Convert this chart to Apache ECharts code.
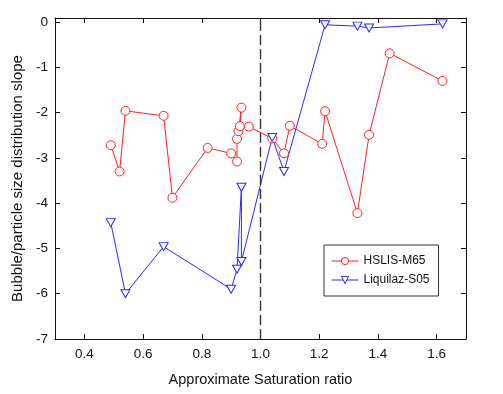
<!DOCTYPE html>
<html><head><meta charset="utf-8">
<script src="https://cdn.jsdelivr.net/npm/echarts@6/dist/echarts.min.js"></script>
<style>html,body{margin:0;padding:0;background:#fff}#c{width:503px;height:394px}</style>
</head><body><div id="c"></div>
<script>
const hslisX = [0.49, 0.52, 0.54, 0.67, 0.70, 0.82, 0.90, 0.92, 0.92, 0.925, 0.935, 0.93, 0.96, 1.04, 1.08, 1.10, 1.21, 1.22, 1.33, 1.37, 1.44, 1.62];
const hslisY = [-2.72, -3.30, -1.96, -2.07, -3.88, -2.78, -2.90, -3.08, -2.58, -2.41, -1.89, -2.30, -2.31, -2.57, -2.90, -2.29, -2.69, -1.97, -4.22, -2.49, -0.69, -1.30];
const liquiX = [0.49, 0.54, 0.67, 0.90, 0.92, 0.935, 0.935, 1.04, 1.08, 1.22, 1.33, 1.37, 1.62];
const liquiY = [-4.43, -6.00, -4.96, -5.90, -5.46, -3.65, -5.29, -2.55, -3.30, -0.06, -0.09, -0.13, -0.04];
const xTicks = [0.4, 0.6, 0.8, 1.0, 1.2, 1.4, 1.6];
const yTicks = [0, -1, -2, -3, -4, -5, -6, -7];
const refX = 1.0;

const zip = (a, b) => a.map((v, i) => [v, b[i]]);
const FONT = 'Liberation Sans';
const axisCommon = {
  type: 'value',
  axisLine: { show: true, onZero: false, lineStyle: { color: '#111', width: 1 } },
  splitLine: { show: false }
};
const chart = echarts.init(document.getElementById('c'));
chart.setOption({
  animation: false,
  backgroundColor: '#fff',
  grid: { left: 55, right: 37, top: 18, bottom: 55 },
  xAxis: [
    Object.assign({}, axisCommon, {
      min: 0.3, max: 1.7, position: 'bottom',
      name: 'Approximate Saturation ratio', nameLocation: 'middle', nameGap: 33,
      nameTextStyle: { fontFamily: FONT, fontSize: 14.5, color: '#111' },
      axisTick: { show: true, inside: true, length: 5, customValues: xTicks, lineStyle: { color: '#111' } },
      axisLabel: { customValues: xTicks, margin: 8, fontFamily: FONT, fontSize: 13.5, color: '#111', formatter: v => v.toFixed(1) }
    }),
    Object.assign({}, axisCommon, {
      min: 0.3, max: 1.7, position: 'top',
      axisTick: { show: true, inside: true, length: 5, customValues: xTicks, lineStyle: { color: '#111' } },
      axisLabel: { show: false }
    })
  ],
  yAxis: [
    Object.assign({}, axisCommon, {
      min: -7, max: 0.09, position: 'left',
      name: 'Bubble/particle size distribution slope', nameLocation: 'middle', nameGap: 24,
      nameTextStyle: { fontFamily: FONT, fontSize: 15, color: '#111' },
      axisTick: { show: true, inside: true, length: 5, customValues: yTicks, lineStyle: { color: '#111' } },
      axisLabel: { customValues: yTicks, margin: 7, fontFamily: FONT, fontSize: 13.5, color: '#111', formatter: v => String(Math.round(v)) }
    }),
    Object.assign({}, axisCommon, {
      min: -7, max: 0.09, position: 'right',
      axisTick: { show: true, inside: true, length: 5, customValues: yTicks, lineStyle: { color: '#111' } },
      axisLabel: { show: false }
    })
  ],
  legend: {
    left: 324, top: 245, orient: 'vertical',
    backgroundColor: '#fff',
    borderColor: '#333', borderWidth: 1,
    padding: [10, 9, 10, 7],
    itemWidth: 27, itemHeight: 9, itemGap: 7,
    lineStyle: { width: 1 },
    itemStyle: { borderWidth: 1 },
    textStyle: { fontFamily: FONT, fontSize: 12, color: '#111' },
    data: ['HSLIS-M65', 'Liquilaz-S05']
  },
  series: [
    {
      name: 'HSLIS-M65', type: 'line', data: zip(hslisX, hslisY),
      symbol: 'circle', symbolSize: 9, showAllSymbol: true,
      lineStyle: { color: '#ff2020', width: 1 },
      itemStyle: { color: '#fff', borderColor: '#ff2020', borderWidth: 1 },
      markLine: {
        silent: true, symbol: 'none', label: { show: false },
        lineStyle: { color: '#333', width: 1.4, type: [10, 4] },
        data: [{ xAxis: refX }]
      }
    },
    {
      name: 'Liquilaz-S05', type: 'line', data: zip(liquiX, liquiY),
      symbol: 'triangle', symbolRotate: 180, symbolSize: [9, 8], showAllSymbol: true,
      lineStyle: { color: '#2a2aff', width: 1 },
      itemStyle: { color: '#fff', borderColor: '#2a2aff', borderWidth: 1 }
    }
  ]
});
</script></body></html>
